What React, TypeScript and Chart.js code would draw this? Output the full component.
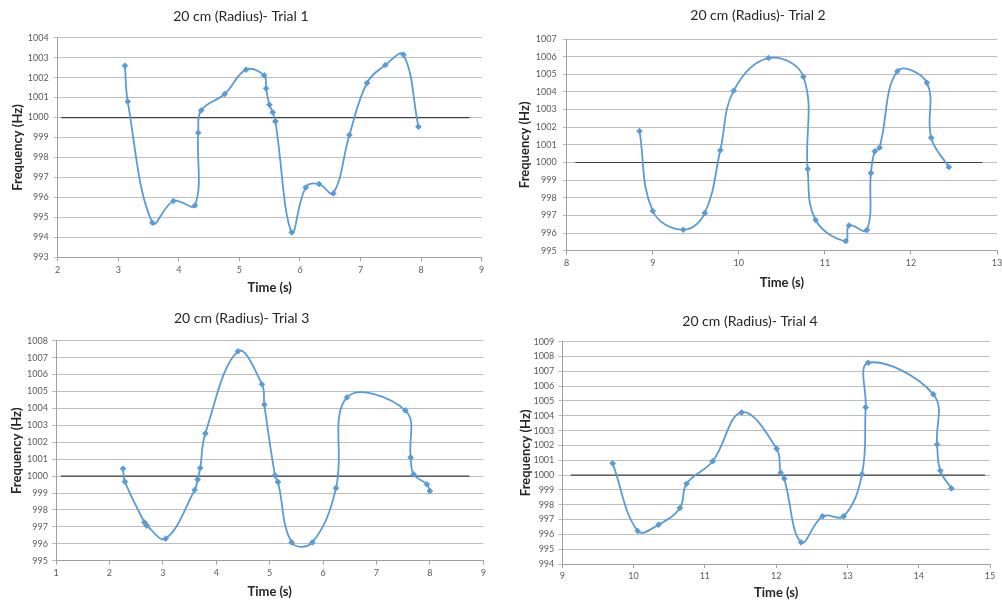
import React, { useEffect, useRef } from "react";
import { Chart, registerables } from "chart.js";

Chart.register(...registerables);

// ---------- DATA ----------
const trial1Time = [3.11, 3.156, 3.563, 3.91, 4.267, 4.32, 4.37, 4.757, 5.11, 5.41, 5.44, 5.495, 5.55, 5.594, 5.863, 6.095, 6.315, 6.55, 6.816, 7.107, 7.41, 7.707, 7.955];
const trial1Freq = [1002.6, 1000.8, 994.73, 995.82, 995.6, 999.24, 1000.36, 1001.18, 1002.4, 1002.11, 1001.46, 1000.64, 1000.26, 999.81, 994.25, 996.5, 996.67, 996.2, 999.13, 1001.73, 1002.63, 1003.15, 999.54];

const trial2Time = [8.846, 9.0, 9.354, 9.604, 9.785, 9.94, 10.346, 10.75, 10.8, 10.892, 11.242, 11.28, 11.488, 11.535, 11.58, 11.635, 11.842, 12.185, 12.235, 12.44];
const trial2Freq = [1001.78, 997.25, 996.19, 997.13, 1000.69, 1004.07, 1005.92, 1004.86, 999.63, 996.74, 995.54, 996.43, 996.17, 999.4, 1000.63, 1000.84, 1005.17, 1004.52, 1001.4, 999.74];

const trial3Time = [2.254, 2.29, 2.654, 2.7, 3.053, 3.596, 3.652, 3.7, 3.796, 4.407, 4.856, 4.9, 5.1, 5.156, 5.412, 5.799, 6.242, 6.448, 7.54, 7.64, 7.696, 7.945, 8.0];
const trial3Freq = [1000.44, 999.67, 997.27, 997.07, 996.3, 999.18, 999.8, 1000.48, 1002.52, 1007.37, 1005.42, 1004.22, 1000.04, 999.65, 996.08, 996.08, 999.29, 1004.65, 1003.88, 1001.1, 1000.1, 999.51, 999.12];

const trial4Time = [9.706, 10.057, 10.35, 10.65, 10.744, 11.109, 11.516, 12.007, 12.063, 12.114, 12.349, 12.652, 12.947, 13.204, 13.256, 13.293, 14.205, 14.257, 14.303, 14.458];
const trial4Freq = [1000.79, 996.23, 996.65, 997.78, 999.42, 1000.93, 1004.23, 1001.78, 1000.16, 999.76, 995.46, 997.22, 997.22, 1000.05, 1004.57, 1007.58, 1005.45, 1002.07, 1000.3, 999.1];

const referenceFreq = 1000;
const trial1RefSpan = [2.06, 8.8];
const trial2RefSpan = [8.1, 12.83];
const trial3RefSpan = [1.09, 8.74];
const trial4RefSpan = [9.12, 14.93];

const trial1XRange = [2, 9];
const trial2XRange = [8, 13];
const trial3XRange = [1, 9];
const trial4XRange = [9, 15];

const trial1YRange = [993, 1004];
const trial2YRange = [995, 1007];
const trial3YRange = [995, 1008];
const trial4YRange = [994, 1009];

const chartTitles = [
  "20 cm (Radius)- Trial 1",
  "20 cm (Radius)- Trial 2",
  "20 cm (Radius)- Trial 3",
  "20 cm (Radius)- Trial 4",
];
const xAxisTitle = "Time (s)";
const yAxisTitle = "Frequency (Hz)";

// ---------- STYLE / LAYOUT ----------
const FONT = "Lato, 'Open Sans', Arial, sans-serif";
const SERIES_COLOR = "#5B9BD5";
const REF_COLOR = "#404040";
const GRID_COLOR = "#bdbdbd";
const AXIS_COLOR = "#a0a0a0";
const TEXT_COLOR = "#262626";
const TICK_COLOR = "#595959";

type Layout = {
  left: number; top: number; w: number; h: number;
  padRight: number; titleTop: number; titleBottom: number;
  xHeight: number; xTitleBottom: number; yWidth: number; yTitleLeft: number; yTickPad: number;
};

const layouts: Layout[] = [
  { left: 0, top: 0, w: 494, h: 300, padRight: 12.3, titleTop: 8.3, titleBottom: 12.6, xHeight: 42.7, xTitleBottom: 4.2, yWidth: 57.7, yTitleLeft: 10.2, yTickPad: 5 },
  { left: 516, top: 0, w: 486, h: 300, padRight: 2, titleTop: 7.3, titleBottom: 14.9, xHeight: 49.3, xTitleBottom: 9.2, yWidth: 50.7, yTitleLeft: 1.2, yTickPad: 6 },
  { left: 0, top: 300, w: 490, h: 303, padRight: 6.7, titleTop: 9.9, titleBottom: 14.0, xHeight: 42.3, xTitleBottom: 2.9, yWidth: 56, yTitleLeft: 8.9, yTickPad: 4 },
  { left: 510, top: 300, w: 490, h: 303, padRight: 10, titleTop: 13.3, titleBottom: 11.6, xHeight: 39, xTitleBottom: 2.5, yWidth: 52.3, yTitleLeft: 8.2, yTickPad: 4 },
];

type TrialProps = {
  times: number[]; freqs: number[]; refSpan: number[];
  xRange: number[]; yRange: number[]; title: string; layout: Layout;
};

function TrialChart(p: TrialProps) {
  const ref = useRef<HTMLCanvasElement | null>(null);
  useEffect(() => {
    if (!ref.current) return;
    const L = p.layout;
    const chart = new Chart(ref.current, {
      type: "scatter",
      data: {
        datasets: [
          {
            data: p.times.map((t, i) => ({ x: t, y: p.freqs[i] })),
            showLine: true,
            borderColor: SERIES_COLOR,
            backgroundColor: SERIES_COLOR,
            borderWidth: 1.8,
            tension: 0.4,
            pointStyle: "rectRot",
            pointRadius: 2.8,
            pointBorderWidth: 1,
          },
          {
            data: p.refSpan.map((x) => ({ x, y: referenceFreq })),
            showLine: true,
            borderColor: REF_COLOR,
            borderWidth: 1.2,
            pointRadius: 0,
            tension: 0,
          },
        ],
      },
      options: {
        responsive: false,
        animation: false,
        devicePixelRatio: 1,
        layout: { padding: { left: 0, top: 0, bottom: 0, right: L.padRight } },
        plugins: {
          legend: { display: false },
          tooltip: { enabled: false },
          title: {
            display: true,
            text: p.title,
            color: TEXT_COLOR,
            font: { family: FONT, size: 14, weight: "normal" },
            padding: { top: L.titleTop, bottom: L.titleBottom },
          },
        },
        scales: {
          x: {
            type: "linear",
            min: p.xRange[0],
            max: p.xRange[1],
            ticks: {
              stepSize: 1,
              color: TICK_COLOR,
              font: { family: FONT, size: 9 },
              padding: 3,
              maxRotation: 0,
              autoSkip: false,
              callback: (v: any) => String(v),
            },
            grid: { drawOnChartArea: false, drawTicks: true, tickLength: 4, color: AXIS_COLOR },
            border: { display: true, color: AXIS_COLOR },
            title: {
              display: true,
              text: xAxisTitle,
              color: TEXT_COLOR,
              font: { family: FONT, size: 13, weight: "bold" },
              padding: { top: 0, bottom: L.xTitleBottom },
            },
            afterFit: (s: any) => {
              s.height = L.xHeight;
              s.paddingLeft = 0;
              s.paddingRight = 0;
            },
          },
          y: {
            type: "linear",
            min: p.yRange[0],
            max: p.yRange[1],
            ticks: {
              stepSize: 1,
              color: TICK_COLOR,
              font: { family: FONT, size: 9 },
              padding: L.yTickPad,
              autoSkip: false,
              callback: (v: any) => String(v),
            },
            grid: { drawTicks: true, tickLength: 4, color: GRID_COLOR, lineWidth: 1 },
            border: { display: true, color: AXIS_COLOR },
            title: {
              display: true,
              text: yAxisTitle,
              color: TEXT_COLOR,
              font: { family: FONT, size: 13, weight: "bold" },
              padding: { top: L.yTitleLeft, bottom: 0 },
            },
            afterFit: (s: any) => {
              s.width = L.yWidth;
              s.paddingTop = 0;
              s.paddingBottom = 0;
            },
          },
        },
      },
    } as any);
    return () => chart.destroy();
  }, []);
  const L = p.layout;
  return (
    <div style={{ position: "absolute", left: L.left, top: L.top, width: L.w, height: L.h }}>
      <canvas ref={ref} width={L.w} height={L.h} style={{ width: L.w, height: L.h, display: "block" }} />
    </div>
  );
}

export default function App() {
  return (
    <div style={{ position: "fixed", left: 0, top: 0, width: 1002, height: 603, background: "#ffffff", overflow: "hidden" }}>
      <TrialChart times={trial1Time} freqs={trial1Freq} refSpan={trial1RefSpan} xRange={trial1XRange} yRange={trial1YRange} title={chartTitles[0]} layout={layouts[0]} />
      <TrialChart times={trial2Time} freqs={trial2Freq} refSpan={trial2RefSpan} xRange={trial2XRange} yRange={trial2YRange} title={chartTitles[1]} layout={layouts[1]} />
      <TrialChart times={trial3Time} freqs={trial3Freq} refSpan={trial3RefSpan} xRange={trial3XRange} yRange={trial3YRange} title={chartTitles[2]} layout={layouts[2]} />
      <TrialChart times={trial4Time} freqs={trial4Freq} refSpan={trial4RefSpan} xRange={trial4XRange} yRange={trial4YRange} title={chartTitles[3]} layout={layouts[3]} />
    </div>
  );
}
